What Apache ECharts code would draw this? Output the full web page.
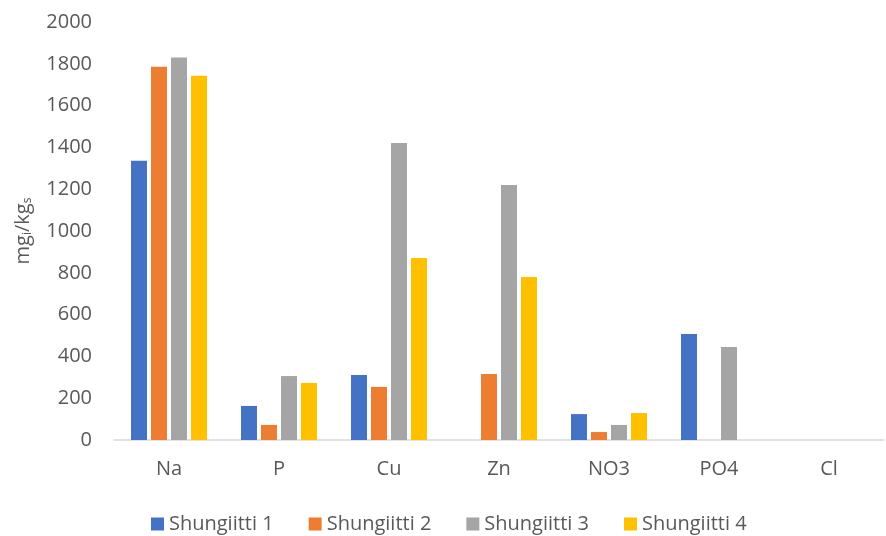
<!DOCTYPE html>
<html>
<head>
<meta charset="utf-8">
<script src="https://cdn.jsdelivr.net/npm/echarts@6/dist/echarts.min.js"></script>
<style>
  html, body { margin: 0; padding: 0; background: #fff; }
  #chart { width: 886px; height: 536px; }
</style>
</head>
<body>
<div id="chart"></div>
<script>
// Measured concentrations per component (mg/kg)
const categories = ['Na', 'P', 'Cu', 'Zn', 'NO3', 'PO4', 'Cl'];
const seriesNames = ['Shungiitti 1', 'Shungiitti 2', 'Shungiitti 3', 'Shungiitti 4'];
const shungiitti1 = [1336, 163, 311, 0, 124, 507, 0];
const shungiitti2 = [1786, 72, 254, 316, 38, 0, 0];
const shungiitti3 = [1830, 306, 1421, 1220, 72, 445, 0];
const shungiitti4 = [1743, 273, 871, 780, 129, 0, 0];
const yTicks = { min: 0, max: 2000, interval: 200 };

const colors = ['#4472C4', '#ED7D31', '#A5A5A5', '#FFC000'];
const values = [shungiitti1, shungiitti2, shungiitti3, shungiitti4];
const font = '"Open Sans", sans-serif';
const textColor = '#595959';

const chart = echarts.init(document.getElementById('chart'));
chart.setOption({
  animation: false,
  color: colors,
  grid: { left: 114, right: 2, top: 22, bottom: 96 },
  legend: {
    top: 510,
    left: 151,
    itemWidth: 13,
    itemHeight: 13,
    itemGap: 35,
    icon: 'rect',
    padding: 0,
    textStyle: { color: textColor, fontSize: 20, fontFamily: font, lineHeight: 28 },
    data: seriesNames
  },
  xAxis: {
    type: 'category',
    data: categories,
    axisLine: { lineStyle: { color: '#D9D9D9', width: 1.5 } },
    axisTick: { show: false },
    axisLabel: { color: textColor, fontSize: 20, fontFamily: font, margin: 19 }
  },
  yAxis: {
    type: 'value',
    min: yTicks.min,
    max: yTicks.max,
    interval: yTicks.interval,
    splitLine: { show: false },
    axisLine: { show: false },
    axisTick: { show: false },
    axisLabel: {
      color: textColor, fontSize: 20, fontFamily: font, margin: 22,
      formatter: (v) => String(v)
    },
    name: '{a|mg}{s|i}{a|/kg}{s|s}',
    nameLocation: 'middle',
    nameRotate: 90,
    nameGap: 80,
    nameTextStyle: {
      color: textColor,
      fontFamily: font,
      rich: {
        a: { fontSize: 20, fontFamily: font, color: textColor },
        s: { fontSize: 12, fontFamily: font, color: textColor, padding: [10, 0, 0, 0] }
      }
    }
  },
  series: values.map((v, i) => ({
    name: seriesNames[i],
    type: 'bar',
    data: v,
    barWidth: 16,
    barGap: '25%',
    itemStyle: { color: colors[i] }
  }))
});
</script>
</body>
</html>
